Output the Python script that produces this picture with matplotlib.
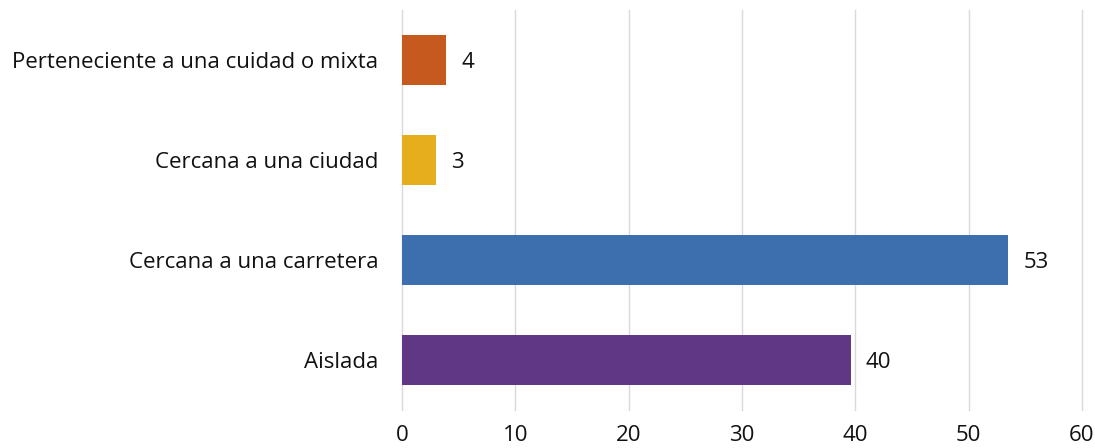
import matplotlib
matplotlib.use('Agg')
import matplotlib.pyplot as plt

categorias = ["Aislada", "Cercana a una carretera", "Cercana a una ciudad",
              "Perteneciente a una cuidad o mixta"]
valores = [39.6, 53.5, 3.0, 3.9]
etiquetas = ["40", "53", "3", "4"]
cores = ["#5f3784", "#3d6fae", "#e6ad1c", "#c65a1e"]

plt.rcParams['font.family'] = ['Open Sans', 'DejaVu Sans']

fig = plt.figure(figsize=(10.95, 4.48), dpi=100, facecolor='white')
ax = fig.add_axes([0.367, 0.085, 0.621, 0.893])

pos = list(range(len(categorias)))
ax.barh(pos, valores, height=0.5, color=cores, zorder=3)
for y, v, lbl in zip(pos, valores, etiquetas):
    ax.annotate(lbl, (v, y), xytext=(11, 0), textcoords='offset points',
                ha='left', va='center_baseline', fontsize=16, color="#111111")

ax.set_xlim(0, 60)
ax.set_ylim(-0.5, 3.5)
ax.set_xticks(range(0, 61, 10))
ax.set_yticks(pos)
ax.set_yticklabels(categorias)
ax.tick_params(axis='both', length=0, labelsize=16, colors="#111111")
ax.tick_params(axis='x', pad=11)
ax.tick_params(axis='y', pad=17)
for spine in ax.spines.values():
    spine.set_visible(False)
ax.grid(axis='x', color='#d9d9d9', linewidth=1.0, zorder=0)
for gl in ax.get_xgridlines():
    gl.set_clip_on(False)

fig.savefig("out.png", dpi=100)
plt.close(fig)
